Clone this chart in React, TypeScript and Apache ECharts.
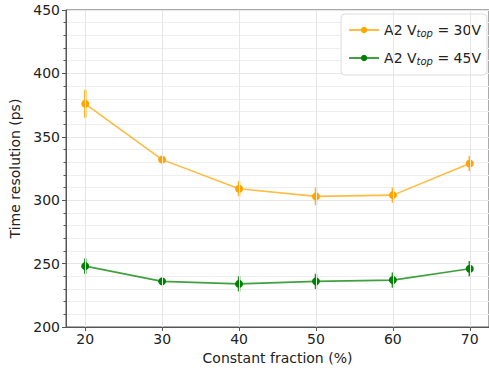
import React, { useEffect, useRef } from "react";
import * as echarts from "echarts";

const fractions = [20, 30, 40, 50, 60, 70];
const res30 = [376, 332, 309, 303, 304, 329];
const err30 = [11, 2, 6, 7, 6, 6];
const res45 = [248, 236, 234, 236, 237, 246];
const err45 = [6, 2, 6, 6, 6, 6];
const xTicks = [20, 30, 40, 50, 60, 70];
const name30 = "A2 V_top = 30V";
const name45 = "A2 V_top = 45V";

const ORANGE = "#FFA500";
const GREEN = "#008000";

function errSeries(name: string, vals: number[], errs: number[], color: string) {
  return {
    type: "custom",
    name: name + " error",
    silent: true,
    z: 3,
    data: fractions.map((x, i) => [x, vals[i] - errs[i], vals[i] + errs[i]]),
    renderItem: (params: any, api: any) => {
      const p1 = api.coord([api.value(0), api.value(1)]);
      const p2 = api.coord([api.value(0), api.value(2)]);
      return {
        type: "line",
        shape: { x1: p1[0], y1: p1[1], x2: p2[0], y2: p2[1] },
        style: { stroke: color, lineWidth: 2.5, opacity: 0.85 },
      };
    },
  };
}

export default function App() {
  const ref = useRef<HTMLDivElement>(null);
  useEffect(() => {
    const chart = echarts.init(ref.current!, null, { renderer: "svg" });
    const font = "DejaVu Sans";
    const fs = 14;
    chart.setOption({
      animation: false,
      backgroundColor: "#fff",
      textStyle: { fontFamily: font },
      grid: {
        left: 66,
        top: 10,
        width: 430,
        height: 317,
        show: true,
        borderColor: "#555",
        borderWidth: 1,
        backgroundColor: "transparent",
      },
      legend: {
        right: 2,
        top: 14,
        orient: "vertical",
        data: [name30, name45],
        backgroundColor: "#fff",
        borderColor: "#ddd",
        borderWidth: 1,
        borderRadius: 4,
        padding: [9, 6, 9, 7],
        itemGap: 13,
        itemWidth: 30,
        itemHeight: 8,
        formatter: (n: string) => n.replace("V_top", "V{sub|top}"),
        textStyle: {
          fontFamily: font,
          fontSize: fs,
          color: "#222",
          rich: {
            sub: {
              fontFamily: font,
              fontSize: 10,
              fontStyle: "italic",
              color: "#222",
              padding: [6, 0, 0, 0],
            },
          },
        },
      },
      xAxis: {
        type: "value",
        min: 17.5,
        max: 72.5,
        axisLine: { show: true, lineStyle: { color: "#555" } },
        axisTick: {
          show: true,
          customValues: xTicks,
          length: 4,
          lineStyle: { color: "#555" },
        },
        axisLabel: {
          customValues: xTicks,
          fontSize: fs,
          color: "#222",
          fontFamily: font,
          margin: 5,
        },
        splitLine: { show: false },
        name: "Constant fraction (%)",
        nameLocation: "middle",
        nameGap: 23,
        nameTextStyle: { fontSize: fs, color: "#222", fontFamily: font },
      },
      yAxis: {
        type: "value",
        min: 200,
        max: 450,
        interval: 50,
        axisLine: { show: true, lineStyle: { color: "#555" } },
        axisTick: { show: true, length: 4, lineStyle: { color: "#555" } },
        minorTick: { show: true, splitNumber: 5, length: 2.5, lineStyle: { color: "#555" } },
        splitLine: { show: true, lineStyle: { color: "#e6e6e6", width: 1 } },
        minorSplitLine: { show: true, lineStyle: { color: "#eeeeee", width: 1 } },
        axisLabel: { fontSize: fs, color: "#222", fontFamily: font, margin: 6 },
        name: "Time resolution (ps)",
        nameLocation: "middle",
        nameGap: 39,
        nameTextStyle: { fontSize: fs, color: "#222", fontFamily: font },
      },
      series: [
        {
          type: "line",
          name: "grid",
          silent: true,
          data: [],
          markLine: {
            silent: true,
            symbol: "none",
            label: { show: false },
            lineStyle: { color: "#e6e6e6", type: "solid", width: 1 },
            data: xTicks.map((x) => ({ xAxis: x })),
          },
          z: 1,
        },
        errSeries(name30, res30, err30, ORANGE),
        errSeries(name45, res45, err45, GREEN),
        {
          type: "line",
          name: name30,
          data: fractions.map((x, i) => [x, res30[i]]),
          symbol: "circle",
          symbolSize: 8,
          itemStyle: { color: ORANGE },
          lineStyle: { color: ORANGE, width: 1.6, opacity: 0.75 },
          z: 4,
        },
        {
          type: "line",
          name: name45,
          data: fractions.map((x, i) => [x, res45[i]]),
          symbol: "circle",
          symbolSize: 8,
          itemStyle: { color: GREEN },
          lineStyle: { color: GREEN, width: 1.6, opacity: 0.75 },
          z: 4,
        },
      ],
    });
    return () => chart.dispose();
  }, []);
  return (
    <div
      ref={ref}
      style={{ position: "fixed", left: 0, top: 0, width: 489, height: 370 }}
    />
  );
}
